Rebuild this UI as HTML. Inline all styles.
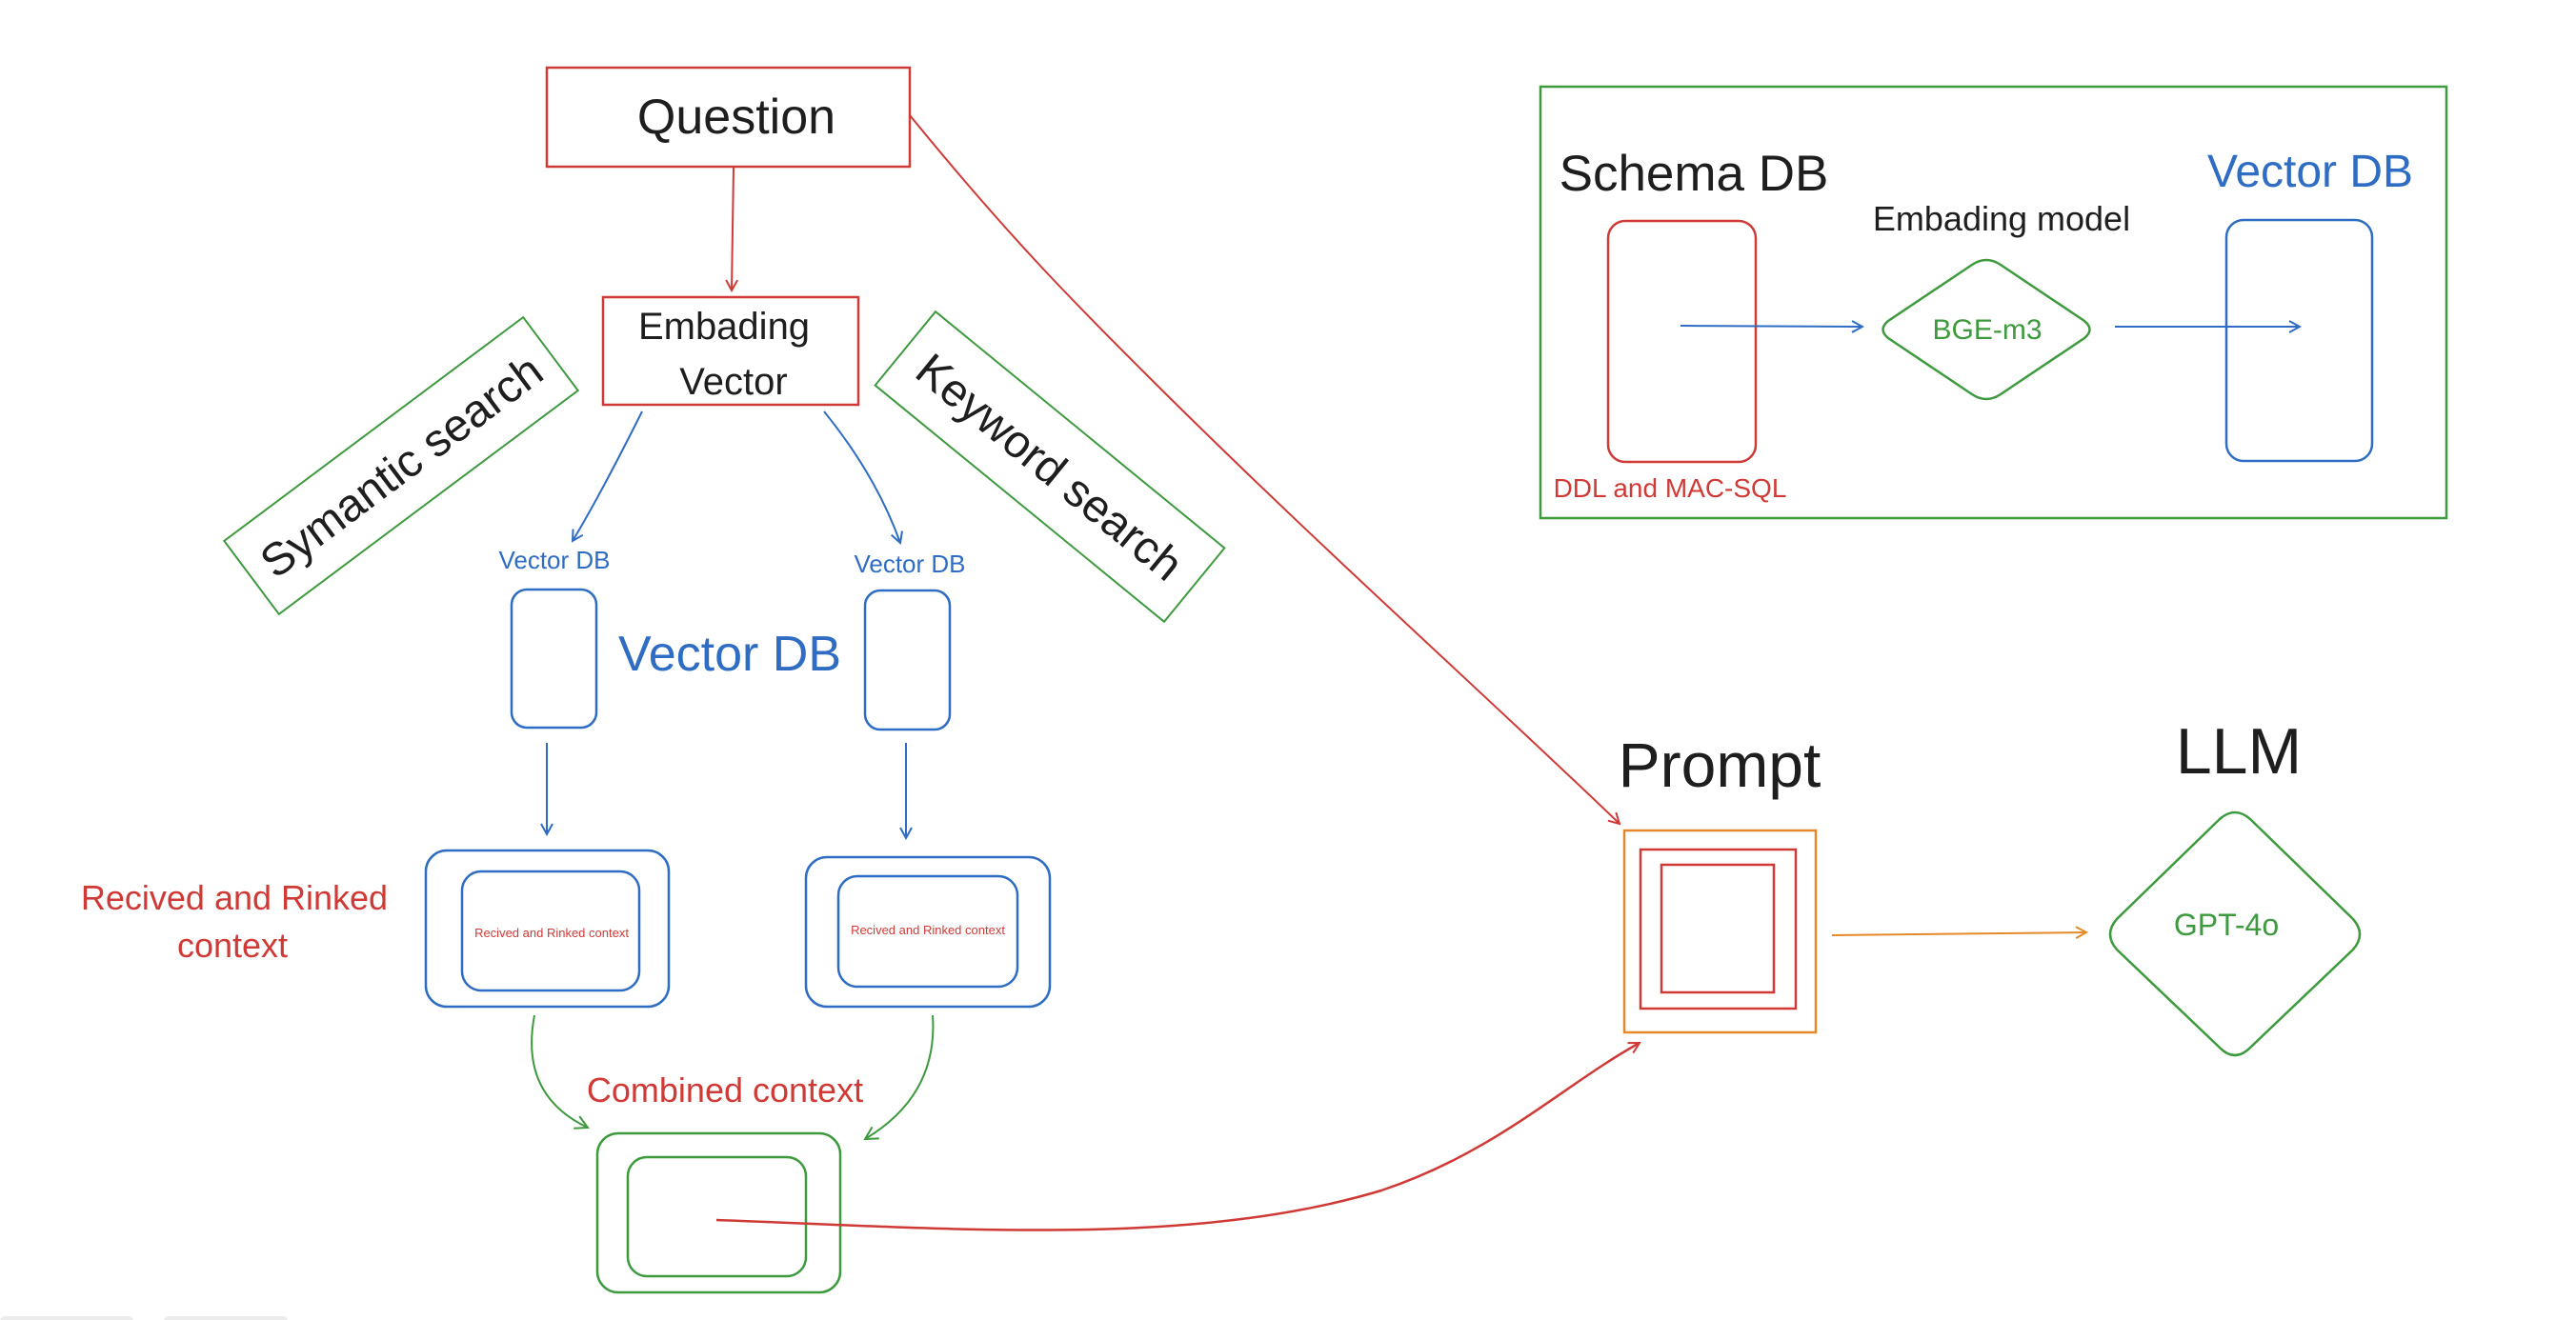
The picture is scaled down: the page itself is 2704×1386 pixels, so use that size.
<!DOCTYPE html>
<html><head><meta charset="utf-8"><style>
html,body{margin:0;padding:0;background:#fff;}
svg{display:block;}
text{font-family:"Liberation Sans","DejaVu Sans",sans-serif;}
</style></head><body>
<svg width="2704" height="1386" viewBox="0 0 2704 1386" xmlns="http://www.w3.org/2000/svg">
<defs>
<marker id="ar" markerWidth="14" markerHeight="14" refX="12" refY="7" orient="auto" markerUnits="userSpaceOnUse"><path d="M1,1 L12,7 L1,13" fill="none" stroke="#d03a36" stroke-width="2"/></marker>
<marker id="ab" markerWidth="14" markerHeight="14" refX="12" refY="7" orient="auto" markerUnits="userSpaceOnUse"><path d="M1,1 L12,7 L1,13" fill="none" stroke="#2f6cc3" stroke-width="2"/></marker>
<marker id="ag" markerWidth="16" markerHeight="16" refX="14" refY="8" orient="auto" markerUnits="userSpaceOnUse"><path d="M1,1 L14,8 L1,15" fill="none" stroke="#3e9a3e" stroke-width="2"/></marker>
<marker id="ao" markerWidth="14" markerHeight="14" refX="12" refY="7" orient="auto" markerUnits="userSpaceOnUse"><path d="M1,1 L12,7 L1,13" fill="none" stroke="#e58a2a" stroke-width="2"/></marker>
</defs>

<rect x="574" y="71" width="381" height="104" fill="none" stroke="#d03a36" stroke-width="2.5"/>
<text x="773" y="140" font-size="52" text-anchor="middle" fill="#1e1e1e">Question</text>
<path d="M770,176 L768,305" stroke="#d03a36" stroke-width="2" fill="none" marker-end="url(#ar)"/>

<rect x="633" y="312" width="268" height="113" fill="none" stroke="#d03a36" stroke-width="2.5"/>
<text x="760" y="356" font-size="40" text-anchor="middle" fill="#1e1e1e">Embading</text>
<text x="770" y="414" font-size="40" text-anchor="middle" fill="#1e1e1e">Vector</text>

<g transform="translate(421,489) rotate(-36.8)">
<rect x="-196" y="-48" width="392" height="96" fill="none" stroke="#3e9a3e" stroke-width="2"/>
<text x="0" y="17" font-size="48" text-anchor="middle" fill="#1e1e1e">Symantic search</text>
</g>
<g transform="translate(1102,490) rotate(39.3)">
<rect x="-196" y="-50" width="392" height="100" fill="none" stroke="#3e9a3e" stroke-width="2"/>
<text x="0" y="17" font-size="48" text-anchor="middle" fill="#1e1e1e">Keyword search</text>
</g>

<path d="M674,432 Q630,520 601,568" stroke="#2f6cc3" stroke-width="2" fill="none" marker-end="url(#ab)"/>
<path d="M865,432 Q920,500 945,570" stroke="#2f6cc3" stroke-width="2" fill="none" marker-end="url(#ab)"/>

<text x="582" y="597" font-size="26" text-anchor="middle" fill="#2f6cc3">Vector DB</text>
<text x="955" y="601" font-size="26" text-anchor="middle" fill="#2f6cc3">Vector DB</text>
<rect x="537" y="619" width="89" height="145" rx="16" fill="none" stroke="#2f6cc3" stroke-width="2.5"/>
<rect x="908" y="620" width="89" height="146" rx="16" fill="none" stroke="#2f6cc3" stroke-width="2.5"/>
<text x="766" y="704" font-size="52" text-anchor="middle" fill="#2f6cc3">Vector DB</text>

<path d="M574,780 L574,876" stroke="#2f6cc3" stroke-width="2" fill="none" marker-end="url(#ab)"/>
<path d="M951,780 L951,880" stroke="#2f6cc3" stroke-width="2" fill="none" marker-end="url(#ab)"/>

<rect x="447" y="893" width="255" height="164" rx="22" fill="none" stroke="#2f6cc3" stroke-width="2.5"/>
<rect x="485" y="915" width="186" height="125" rx="20" fill="none" stroke="#2f6cc3" stroke-width="2.5"/>
<text x="579" y="984" font-size="13" text-anchor="middle" fill="#d03a36">Recived and Rinked context</text>
<rect x="846" y="900" width="256" height="157" rx="22" fill="none" stroke="#2f6cc3" stroke-width="2.5"/>
<rect x="880" y="920" width="188" height="116" rx="20" fill="none" stroke="#2f6cc3" stroke-width="2.5"/>
<text x="974" y="981" font-size="13" text-anchor="middle" fill="#d03a36">Recived and Rinked context</text>

<text x="246" y="955" font-size="36" text-anchor="middle" fill="#d03a36">Recived and Rinked</text>
<text x="244" y="1005" font-size="36" text-anchor="middle" fill="#d03a36">context</text>

<path d="M561,1066 Q545,1150 617,1184" stroke="#3e9a3e" stroke-width="2" fill="none" marker-end="url(#ag)"/>
<path d="M979,1066 Q985,1150 908,1196" stroke="#3e9a3e" stroke-width="2" fill="none" marker-end="url(#ag)"/>
<text x="761" y="1157" font-size="36" text-anchor="middle" fill="#d03a36">Combined context</text>

<rect x="627" y="1190" width="255" height="167" rx="22" fill="none" stroke="#3e9a3e" stroke-width="2.5"/>
<rect x="659" y="1215" width="187" height="125" rx="20" fill="none" stroke="#3e9a3e" stroke-width="2.5"/>

<path d="M752,1281 C1000,1290 1250,1310 1450,1250 C1570,1210 1640,1140 1721,1095" stroke="#d03a36" stroke-width="2.5" fill="none" marker-end="url(#ar)"/>
<path d="M955,121 C1060,250 1130,320 1200,390 C1380,570 1560,730 1700,865" stroke="#d03a36" stroke-width="2" fill="none" marker-end="url(#ar)"/>

<rect x="1617" y="91" width="951" height="453" fill="none" stroke="#3e9a3e" stroke-width="2.5"/>
<text x="1778" y="200" font-size="53" text-anchor="middle" fill="#1e1e1e">Schema DB</text>
<text x="2101" y="242" font-size="36" text-anchor="middle" fill="#1e1e1e">Embading model</text>
<text x="2425" y="196" font-size="48" text-anchor="middle" fill="#2f6cc3">Vector DB</text>
<rect x="1688" y="232" width="155" height="253" rx="18" fill="none" stroke="#d03a36" stroke-width="2.5"/>
<text x="1753" y="522" font-size="28" text-anchor="middle" fill="#d03a36">DDL and MAC-SQL</text>
<path d="M1764,342 L1955,343" stroke="#2f6cc3" stroke-width="2" fill="none" marker-end="url(#ab)"/>
<path d="M2070,278 Q2085,268 2100,278 L2188,337 Q2199,346 2188,355 L2100,414 Q2085,424 2070,414 L1982,355 Q1971,346 1982,337 Z" fill="none" stroke="#3e9a3e" stroke-width="2.5"/>
<text x="2086" y="356" font-size="30" text-anchor="middle" fill="#3e9a3e">BGE-m3</text>
<path d="M2220,343 L2414,343" stroke="#2f6cc3" stroke-width="2" fill="none" marker-end="url(#ab)"/>
<rect x="2337" y="231" width="153" height="253" rx="18" fill="none" stroke="#2f6cc3" stroke-width="2.5"/>

<text x="1805" y="826" font-size="66" text-anchor="middle" fill="#1e1e1e">Prompt</text>
<rect x="1705" y="872" width="201" height="212" fill="none" stroke="#e58a2a" stroke-width="2.5"/>
<rect x="1722" y="892" width="163" height="167" fill="none" stroke="#d03a36" stroke-width="2.5"/>
<rect x="1744" y="908" width="118" height="134" fill="none" stroke="#d03a36" stroke-width="2.5"/>
<path d="M1923,982 L2190,979" stroke="#e58a2a" stroke-width="2" fill="none" marker-end="url(#ao)"/>

<text x="2350" y="812" font-size="68" text-anchor="middle" fill="#1e1e1e">LLM</text>
<path d="M2330,860 Q2346,846 2362,860 L2470,965 Q2484,981 2470,997 L2362,1100 Q2346,1116 2330,1100 L2222,997 Q2208,981 2222,965 Z" fill="none" stroke="#3e9a3e" stroke-width="2.5"/>
<text x="2337" y="982" font-size="32" text-anchor="middle" fill="#3e9a3e">GPT-4o</text>

<rect x="0" y="1382" width="140" height="10" rx="5" fill="#ececec"/>
<rect x="172" y="1382" width="130" height="10" rx="5" fill="#ececec"/>
</svg>
</body></html>
